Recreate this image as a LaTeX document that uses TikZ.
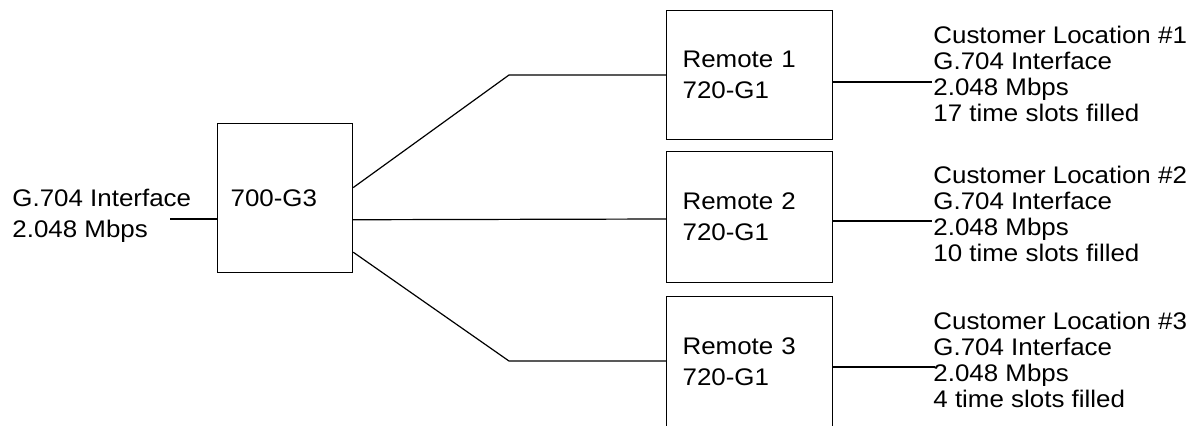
\documentclass[tikz,border=0pt]{standalone}
\usepackage{fontspec}
\setmainfont[FakeStretch=1.08]{Liberation Sans}
\usetikzlibrary{calc, positioning}

\begin{document}
\begin{tikzpicture}[x=0.5pt,y=-0.5pt]
        \tikzset{every node/.style={font=\fontsize{12}{15.5}\selectfont},
            unit/.style={draw,line width=0.6pt,align=left,anchor=north west,inner ysep=0pt},
            remote/.style={unit,inner xsep=8pt,text width=67pt},
            info/.style={align=left,inner sep=0pt,anchor=west},
            site/.style={info,font=\fontsize{12}{13}\selectfont},
            link/.style={line width=0.6pt}}

        \useasboundingbox (0,0) rectangle (1200,425);

        \node[unit,inner xsep=6.5pt,text width=54.5pt,minimum height=74.5pt] (g3) at (217,123) {700-G3};
        \node[remote,minimum height=64.5pt] (r1) at (666,10) {Remote 1\\720-G1};
        \node[remote,minimum height=65.5pt] (r2) at (666,151) {Remote 2\\720-G1};
        \node[remote,minimum height=65pt] (r3) at (666,296) {Remote 3\\720-G1};

        \node[info] (feed) at (12,216) {G.704 Interface\\2.048 Mbps};
        \node[site] (c1) at (933,73.5) {Customer Location \#1\\G.704 Interface\\2.048 Mbps\\17 time slots filled};
        \node[site] (c2) at (933,213.5) {Customer Location \#2\\G.704 Interface\\2.048 Mbps\\10 time slots filled};
        \node[site] (c3) at (933,359.5) {Customer Location \#3\\G.704 Interface\\2.048 Mbps\\4 time slots filled};

        \coordinate (in) at (170,219);
        \coordinate (k1) at (509,75);
        \coordinate (k3) at (509,361);
        \coordinate (o1) at (932,82);
        \coordinate (o2) at (932,221);
        \coordinate (o3) at (935,367);

        \draw[link] (in) -- (in -| g3.west);
        \draw[link] ($(g3.north east)!0.43!(g3.south east)$) -- (k1) -- (k1 -| r1.west);
        \draw[link] ($(g3.north east)!0.644!(g3.south east)$) -- (in -| r2.west);
        \draw[link] ($(g3.north east)!0.86!(g3.south east)$) -- (k3) -- (k3 -| r3.west);

        \foreach \n in {1,2,3}
            \draw[link] (o\n -| r\n.east) -- (o\n);
    \end{tikzpicture}
\end{document}
